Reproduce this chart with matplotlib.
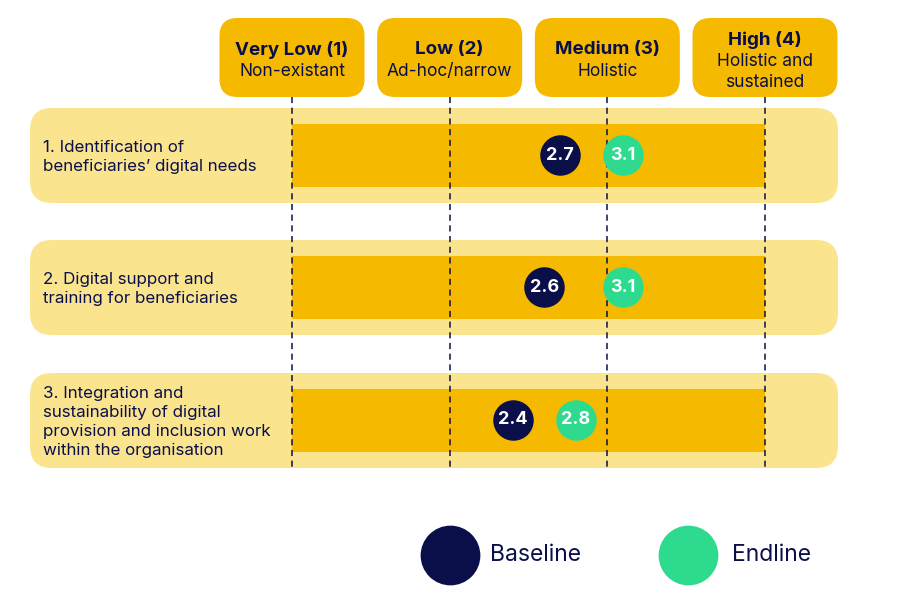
import matplotlib
matplotlib.use("Agg")
from matplotlib import pyplot as plt
from matplotlib.patches import FancyBboxPatch

plt.rcParams['font.family'] = ['Inter', 'DejaVu Sans']

# data
levels = [1, 2, 3, 4]
level_titles = ["Very Low (1)", "Low (2)", "Medium (3)", "High (4)"]
level_notes = ["Non-existant", "Ad-hoc/narrow", "Holistic", "Holistic and\nsustained"]
rows = ["1. Identification of\nbeneficiaries’ digital needs",
        "2. Digital support and\ntraining for beneficiaries",
        "3. Integration and\nsustainability of digital\nprovision and inclusion work\nwithin the organisation"]
baseline = [2.7, 2.6, 2.4]
endline = [3.1, 3.1, 2.8]

GOLD = "#F5BA00"
LIGHT = "#FAE48E"
NAVY = "#0A0F4A"
GREEN = "#2DDA8E"

fig = plt.figure(figsize=(9, 6), dpi=100)
ax = fig.add_axes([0, 0, 1, 1])
unit = (765 - 292) / 3.0  # px per score unit
ax.set_xlim(1 - 292 / unit, 1 + 608 / unit)
ax.set_ylim(600, 0)
ax.axis("off")

def px(v):
    return v / unit

row_y = [155, 287, 420]

# header boxes
for lv, title, note in zip(levels, level_titles, level_notes):
    w = px(145)
    box = FancyBboxPatch((lv - w / 2, 18), w, 79,
                         boxstyle="round,pad=0,rounding_size=%f" % px(18),
                         mutation_aspect=unit, fc=GOLD, ec="none", zorder=2)
    ax.add_patch(box)
    if "\n" in note:
        ax.text(lv, 40, title, ha="center", va="center", fontsize=13.5, fontweight="bold", color=NAVY, zorder=3)
        ax.text(lv, 72, note, ha="center", va="center", fontsize=12.5, color=NAVY, linespacing=1.3, zorder=3)
    else:
        ax.text(lv, 50, title, ha="center", va="center", fontsize=13.5, fontweight="bold", color=NAVY, zorder=3)
        ax.text(lv, 72, note, ha="center", va="center", fontsize=12.5, color=NAVY, zorder=3)

# rows
x_left = 1 + px(30 - 292)
x_right = 1 + px(838 - 292)
for y, label in zip(row_y, rows):
    bg = FancyBboxPatch((x_left, y - 47), x_right - x_left, 95,
                        boxstyle="round,pad=0,rounding_size=%f" % px(22),
                        mutation_aspect=unit, fc=LIGHT, ec="none", zorder=1)
    ax.add_patch(bg)
    ax.barh(y, levels[-1] - levels[0], left=levels[0], height=63, color=GOLD, zorder=2)
    ax.text(1 + px(43 - 292), y + 2, label, ha="left", va="center", fontsize=12.2,
            color=NAVY, linespacing=1.32, zorder=3)

ax.vlines(levels, 97, 467, colors=NAVY, linestyles=(0, (4, 3)), linewidth=1.1, zorder=3)

# markers
ax.scatter(baseline, row_y, s=850, color=NAVY, zorder=4, linewidths=0)
ax.scatter(endline, row_y, s=850, color=GREEN, zorder=4, linewidths=0)
for b, e, y in zip(baseline, endline, row_y):
    ax.text(b, y, f"{b:.1f}", ha="center", va="center", fontsize=13, fontweight="bold", color="white", zorder=5)
    ax.text(e, y, f"{e:.1f}", ha="center", va="center", fontsize=13, fontweight="bold", color="white", zorder=5)

# legend
ax.scatter([1 + px(450 - 292)], [555], s=1850, color=NAVY, linewidths=0, zorder=4)
ax.text(1 + px(490 - 292), 555, "Baseline", ha="left", va="center", fontsize=16.5, color=NAVY)
ax.scatter([1 + px(688 - 292)], [555], s=1850, color=GREEN, linewidths=0, zorder=4)
ax.text(1 + px(732 - 292), 555, "Endline", ha="left", va="center", fontsize=16.5, color=NAVY)

fig.savefig("out.png", dpi=100, facecolor="white")
